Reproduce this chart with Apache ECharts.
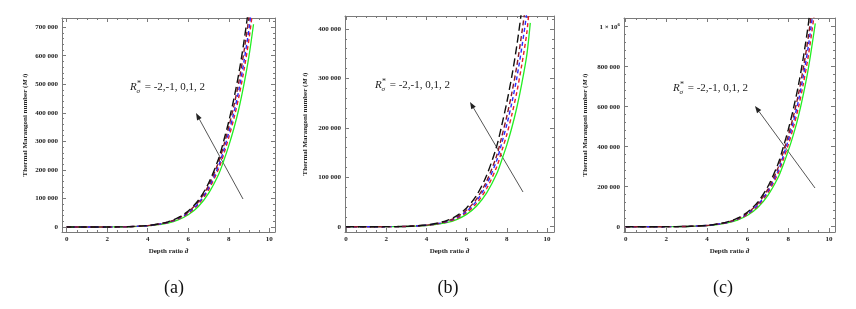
<!DOCTYPE html>
<html><head><meta charset="utf-8">
<script src="https://cdn.jsdelivr.net/npm/echarts@6/dist/echarts.min.js"></script>
<style>html,body{margin:0;padding:0;background:#fff}#c{width:856px;height:309px}</style>
</head><body><div id="c"></div>
<script>
// ---- data ----
const xA = [0,1,2,3,4,4.5,5,5.5,6,6.5,7,7.5,7.75,8,8.25,8.5,8.75,9,9.22];
const xB = [0,1,2,3,4,4.5,5,5.5,6,6.5,7,7.5,7.75,8,8.25,8.5,8.75,9,9.17];
const xC = [0,1,2,3,4,4.5,5,5.5,6,6.5,7,7.5,7.75,8,8.25,8.5,8.75,9,9.33];

const aGreen = [0,0,100,800,4000,8000,14000,25000,43000,72000,118000,185000,232000,285000,345000,415000,500000,600000,710000];
const aRed   = [0,0,110,880,4400,8800,15400,27500,47300,79200,130000,204000,255000,314000,380000,457000,550000,660000,781000];
const aBlue  = [0,0,116,930,4640,9280,16200,29000,49900,83500,137000,215000,269000,331000,400000,481000,580000,696000,824000];
const aDark  = [0,0,123,980,4920,9840,17200,30800,52900,88600,145000,228000,285000,351000,424000,510000,615000,738000,873000];
const aBlack = [0,0,130,1040,5200,10400,18200,32500,55900,93600,153000,240000,302000,370000,449000,540000,650000,780000,923000];

const bGreen = [0,0,60,460,2300,4600,8100,14500,25000,41800,68400,107000,135000,165000,200000,241000,290000,348000,412000];
const bRed   = [0,0,68,520,2600,5200,9150,16400,28300,47200,77300,121000,153000,186000,226000,272000,328000,393000,466000];
const bBlue  = [0,0,75,575,2880,5750,10100,18100,31300,52300,85500,134000,169000,206000,250000,301000,363000,435000,515000];
const bDark  = [0,0,81,620,3100,6200,10900,19600,33800,56400,92300,144000,182000,223000,270000,325000,392000,470000,556000];
const bBlack = [0,0,91,700,3500,7000,12300,22000,38000,63500,104000,163000,205000,251000,304000,366000,441000,529000,626000];

const cGreen = [0,0,133,1060,5300,10600,18600,33300,57200,95800,157000,246000,309000,379000,459000,552000,665000,798000,1017000];
const cRed   = [0,0,144,1150,5720,11400,20100,36000,61800,103000,170000,266000,334000,409000,496000,596000,718000,862000,1098000];
const cBlue  = [0,0,152,1210,6040,12100,21200,38000,65200,109000,179000,280000,352000,432000,523000,629000,758000,910000,1159000];
const cDark  = [0,0,160,1270,6360,12700,22300,40000,68600,115000,188000,295000,371000,455000,551000,662000,798000,958000,1220000];
const cBlack = [0,0,170,1360,6780,13600,23800,42600,73200,123000,201000,315000,396000,485000,588000,707000,851000,1021000,1302000];

const annot = ' = -2,-1, 0,1, 2';
const captions = ['(a)','(b)','(c)'];

// ---- layout ----
const panels = [
  {grid:{left:62,top:18,width:213,height:214}, x:[-0.23,10.28], y:[-17500,732000], xs:xA,
   ys:[aGreen,aRed,aBlue,aDark,aBlack], nameGap:33, text:[130,82], arrow:[243,199,196,113], cap:174},
  {grid:{left:345,top:16,width:209,height:216}, x:[-0.05,10.35], y:[-10700,426000], xs:xB,
   ys:[bGreen,bRed,bBlue,bDark,bBlack], nameGap:36, text:[375,80], arrow:[523,192,470,102], cap:448},
  {grid:{left:624,top:18,width:211,height:214}, x:[-0.08,10.3], y:[-26500,1043500], xs:xC,
   ys:[cGreen,cRed,cBlue,cDark,cBlack], nameGap:35, text:[673,83], arrow:[815,188,755,106], cap:723}
];
const styles = [
  {color:'#22ee22', type:'solid', w:1.3},
  {color:'#e8202a', type:[4,3], w:1.4},
  {color:'#2a2aff', type:[4,3], w:1.4},
  {color:'#8a1a2a', type:[5,3], w:1.4},
  {color:'#111111', type:[8,4], w:1.4}
];
const frameColor = '#7a7a7a';
const lblFont = {fontFamily:'Liberation Serif', fontWeight:'bold', fontSize:7, color:'#222'};

function yFmt(v){
  if (v === 1000000) return '{m|1 × 10}{s|6}';
  const s = String(Math.round(v));
  if (s.length > 3) return s.slice(0, s.length-3) + ' ' + s.slice(s.length-3);
  return s;
}

const grids=[], xAxes=[], yAxes=[], series=[], graphics=[];
panels.forEach((p, i) => {
  grids.push(p.grid);
  const common = {
    gridIndex:i, type:'value',
    axisLine:{show:true, onZero:false, lineStyle:{color:frameColor, width:1}},
    axisTick:{show:true, inside:true, length:4, lineStyle:{color:frameColor}},
    minorTick:{show:true, length:2, lineStyle:{color:frameColor}},
    splitLine:{show:false}
  };
  xAxes.push(Object.assign({}, common, {position:'bottom', min:p.x[0], max:p.x[1], minorTick:Object.assign({}, common.minorTick, {splitNumber:4}),
    axisLabel:Object.assign({margin:4, showMinLabel:false, showMaxLabel:false}, lblFont),
    name:'Depth ratio {i|d\u0302}', nameLocation:'middle', nameGap:15,
    nameTextStyle:Object.assign({}, lblFont, {rich:{i:{fontFamily:'Liberation Serif', fontStyle:'italic', fontWeight:'bold', fontSize:7, color:'#222'}}})}));
  xAxes.push(Object.assign({}, common, {position:'top', min:p.x[0], max:p.x[1], minorTick:Object.assign({}, common.minorTick, {splitNumber:4}), axisLabel:{show:false}}));
  yAxes.push(Object.assign({}, common, {position:'left', min:p.y[0], max:p.y[1], minorTick:Object.assign({}, common.minorTick, {splitNumber:5}),
    axisLabel:Object.assign({margin:4, showMinLabel:false, showMaxLabel:false, formatter:yFmt,
      rich:{m:Object.assign({}, lblFont), s:Object.assign({}, lblFont, {fontSize:5, verticalAlign:'top', padding:[0,0,4,0]})}}, lblFont),
    name:'Thermal Marangoni number ({i|M} {t|t})', nameLocation:'middle', nameGap:p.nameGap,
    nameTextStyle:Object.assign({}, lblFont, {rich:{
      i:{fontFamily:'Liberation Serif', fontStyle:'italic', fontWeight:'bold', fontSize:7, color:'#222'},
      t:{fontFamily:'Liberation Serif', fontStyle:'italic', fontWeight:'bold', fontSize:6, color:'#222'}}})}));
  yAxes.push(Object.assign({}, common, {position:'right', min:p.y[0], max:p.y[1], minorTick:Object.assign({}, common.minorTick, {splitNumber:5}), axisLabel:{show:false}}));
  p.ys.forEach((ys, k) => {
    const st = styles[k];
    series.push({type:'line', xAxisIndex:2*i, yAxisIndex:2*i, showSymbol:false, smooth:0.3, clip:true,
      data: p.xs.map((x, j) => [x, ys[j]]),
      lineStyle:{color:st.color, type:st.type, width:st.w}, z: 2+k, silent:true, animation:false});
  });
  // annotation text R_sigma^*
  const tx = p.text[0], ty = p.text[1];
  graphics.push({type:'text', left:tx, top:ty, style:{text:'R', font:'italic 11px "Liberation Serif"', fill:'#222'}});
  graphics.push({type:'text', left:tx+7, top:ty-2, style:{text:'*', font:'8px "Liberation Serif"', fill:'#222'}});
  graphics.push({type:'text', left:tx+6.5, top:ty+6, style:{text:'σ', font:'italic 7px "Liberation Serif"', fill:'#222'}});
  graphics.push({type:'text', left:tx+12, top:ty, style:{text:annot, font:'11px "Liberation Serif"', fill:'#222'}});
  // arrow
  const [x1,y1,x2,y2] = p.arrow;
  const ang = Math.atan2(y2-y1, x2-x1), L = 7, W = 2.6;
  const bx = x2 - L*Math.cos(ang), by = y2 - L*Math.sin(ang);
  graphics.push({type:'line', shape:{x1:x1, y1:y1, x2:bx, y2:by}, style:{stroke:'#555', lineWidth:1}});
  graphics.push({type:'polygon', shape:{points:[[x2,y2],[bx - W*Math.sin(ang), by + W*Math.cos(ang)],[bx + W*Math.sin(ang), by - W*Math.cos(ang)]]}, style:{fill:'#222'}});
  // caption
  graphics.push({type:'text', x:p.cap, y:288, style:{text:captions[i], font:'18px "Liberation Serif"', fill:'#111', align:'center', verticalAlign:'middle'}});
});

const chart = echarts.init(document.getElementById('c'), null, {renderer:'canvas'});
chart.setOption({animation:false, grid:grids, xAxis:xAxes, yAxis:yAxes, series:series, graphic:graphics});
</script></body></html>
